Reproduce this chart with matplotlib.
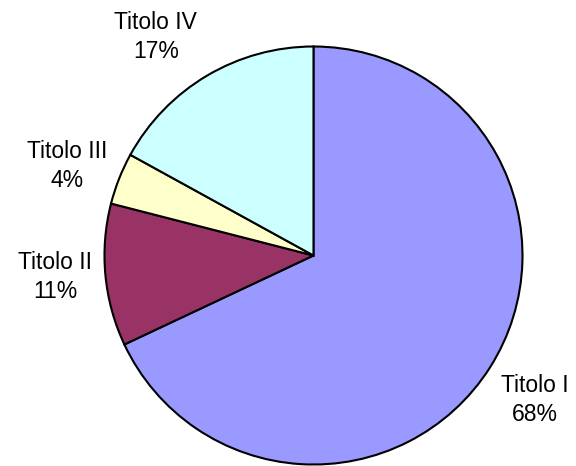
import matplotlib
matplotlib.use("Agg")
import matplotlib.pyplot as plt

# Slice data
titles = ["Titolo I", "Titolo II", "Titolo III", "Titolo IV"]
shares = [68, 11, 4, 17]
colors = ["#9999FF", "#993366", "#FFFFCC", "#CCFFFF"]

# label centres, in pie-radius units
label_xy = [(1.06, -0.691), (-1.237, -0.103), (-1.179, 0.428), (-0.754, 1.045)]

plt.rcParams["font.family"] = ["Liberation Sans", "DejaVu Sans"]

fig = plt.figure(figsize=(5.76, 4.66), dpi=100)
ax = fig.add_axes([0.1814, 0.0032, 0.7257, 0.897])

labels = [f"{t}\n{s}%" for t, s in zip(titles, shares)]
wedges, texts = ax.pie(shares, labels=labels, colors=colors, startangle=90,
                       counterclock=False, radius=1,
                       wedgeprops=dict(edgecolor="black", linewidth=1.5),
                       textprops=dict(fontsize=16.5, color="black"))

for txt, (x, y) in zip(texts, label_xy):
    txt.set_position((x, y))
    txt.set_ha("center")
    txt.set_va("center")
    txt.set_multialignment("center")
    txt.set_linespacing(1.35)
    txt.set_clip_on(False)

ax.set_xlim(-1, 1)
ax.set_ylim(-1, 1)
ax.set_aspect("equal")
ax.axis("off")

fig.savefig("out.png", dpi=100)
